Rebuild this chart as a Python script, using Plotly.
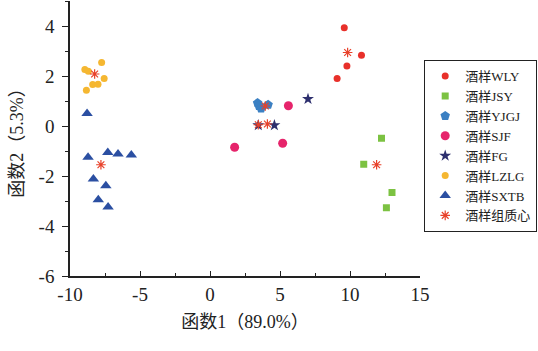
import plotly.graph_objects as go

# ---- data ----
wly_x = [9.59, 10.82, 9.78, 9.08]
wly_y = [3.93, 2.83, 2.40, 1.90]

jsy_x = [12.25, 10.98, 13.0, 12.6]
jsy_y = [-0.49, -1.53, -2.66, -3.27]

yjgj_x = [3.4, 3.5, 3.65, 4.15]
yjgj_y = [0.92, 0.80, 0.70, 0.85]

sjf_x = [5.6, 5.19, 1.76]
sjf_y = [0.81, -0.69, -0.85]

fg_x = [3.45, 4.6, 7.0]
fg_y = [0.03, 0.03, 1.08]

lzlg_x = [-7.74, -8.94, -8.69, -7.56, -8.38, -8.0, -8.83]
lzlg_y = [2.54, 2.26, 2.19, 1.90, 1.66, 1.67, 1.43]

sxtb_x = [-8.78, -8.71, -7.3, -6.57, -5.62, -8.33, -7.44, -7.98, -7.28]
sxtb_y = [0.50, -1.25, -1.06, -1.12, -1.16, -2.12, -2.39, -2.95, -3.24]

cent_x = [9.83, 11.9, 3.95, 3.45, 4.1, -8.24, -7.79]
cent_y = [2.94, -1.55, 0.80, 0.05, 0.08, 2.08, -1.55]

names = ["酒样WLY", "酒样JSY", "酒样YJGJ", "酒样SJF", "酒样FG", "酒样LZLG", "酒样SXTB", "酒样组质心"]

FONT = "Liberation Serif, Times New Roman, Noto Sans CJK SC, serif"

fig = go.Figure()
series = [
    (wly_x, wly_y, names[0], "circle", "#e8302a", 7),
    (jsy_x, jsy_y, names[1], "square", "#7cc242", 7),
    (yjgj_x, yjgj_y, names[2], "pentagon", "#3b80c3", 10),
    (sjf_x, sjf_y, names[3], "circle", "#e6246b", 9),
    (fg_x, fg_y, names[4], "star", "#2d2f6e", 9),
    (lzlg_x, lzlg_y, names[5], "circle", "#f5b731", 7),
    (sxtb_x, sxtb_y, names[6], "triangle-up", "#2b4fa2", 10),
]
for xs, ys, nm, sym, col, sz in series:
    fig.add_trace(go.Scatter(x=xs, y=ys, mode="markers", name=nm,
                             marker=dict(symbol=sym, color=col, size=sz, line=dict(width=0))))
fig.add_trace(go.Scatter(x=cent_x, y=cent_y, mode="markers", name=names[7],
                         marker=dict(symbol="asterisk-open", size=8, color="#e8412a",
                                     line=dict(width=1.2, color="#e8412a"))))

fig.update_layout(
    width=538, height=351,
    margin=dict(l=70, r=113, t=1, b=75),
    paper_bgcolor="white", plot_bgcolor="white",
    font=dict(family=FONT, color="#222"),
    showlegend=True,
    legend=dict(x=1.012, xanchor="left", y=0.785, yanchor="top",
                bordercolor="#222", borderwidth=1, bgcolor="white",
                font=dict(family=FONT, size=13, color="#222"),
                tracegroupgap=0, itemwidth=30),
    xaxis=dict(range=[-10, 15], tickvals=[-10, -5, 0, 5, 10, 15],
               ticktext=["-10", "-5", "0", "5", "10", "15"],
               ticks="inside", ticklen=5, tickcolor="#222", showline=True, linecolor="#222",
               linewidth=1.5, showgrid=False, zeroline=False,
               minor=dict(dtick=2.5, ticks="inside", ticklen=3, tickcolor="#222", showgrid=False),
               tickfont=dict(size=19, family=FONT),
               title=dict(text="函数1（89.0%）", font=dict(size=18, family=FONT), standoff=12)),
    yaxis=dict(range=[-6, 5], tickvals=[-6, -4, -2, 0, 2, 4],
               ticktext=["-6", "-4", "-2", "0", "2", "4"],
               ticks="outside", ticklen=6, tickcolor="#222", showline=True, linecolor="#222",
               linewidth=1.5, showgrid=False, zeroline=False,
               minor=dict(dtick=1, ticks="outside", ticklen=3, tickcolor="#222", showgrid=False),
               tickfont=dict(size=19, family=FONT), ticklabelstandoff=4,
               title=dict(text="函数2（5.3%）", font=dict(size=18, family=FONT), standoff=10)),
)

fig.write_html("out.html")
